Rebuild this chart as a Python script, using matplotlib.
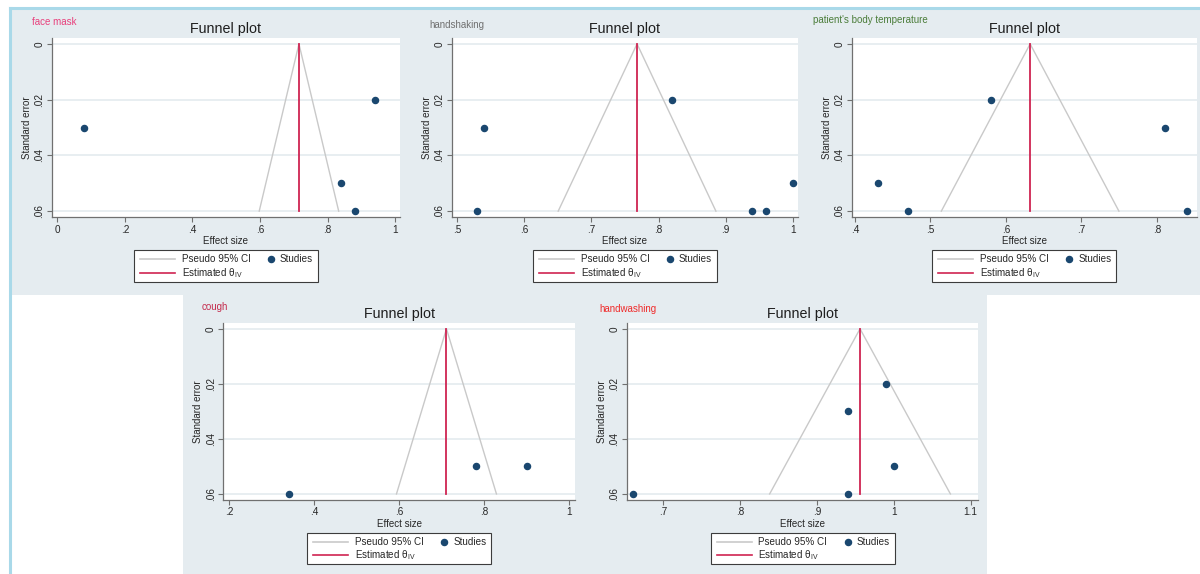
import matplotlib
matplotlib.use("Agg")
import matplotlib.pyplot as plt
from matplotlib.patches import Rectangle
from matplotlib.lines import Line2D

plt.rcParams['font.family'] = ['Liberation Sans', 'DejaVu Sans']
plt.rcParams['mathtext.fontset'] = 'custom'
plt.rcParams['mathtext.rm'] = 'Liberation Sans'
plt.rcParams['mathtext.it'] = 'Liberation Sans:italic'

# ---------------------------------------------------------------- data
outcomes = ["face mask", "handshaking", "patient's body temperature",
            "cough", "handwashing"]

face_mask_es = [0.08, 0.94, 0.84, 0.88]
face_mask_se = [0.03, 0.02, 0.05, 0.06]

handshaking_es = [0.53, 0.54, 0.82, 0.94, 0.96, 1.00]
handshaking_se = [0.06, 0.03, 0.02, 0.06, 0.06, 0.05]

body_temp_es = [0.43, 0.47, 0.58, 0.81, 0.84]
body_temp_se = [0.05, 0.06, 0.02, 0.03, 0.06]

cough_es = [0.34, 0.78, 0.90]
cough_se = [0.06, 0.05, 0.05]

handwashing_es = [0.66, 0.94, 0.94, 0.99, 1.00]
handwashing_se = [0.06, 0.03, 0.06, 0.02, 0.05]

# inverse-variance pooled estimates
pooled_theta = [0.715, 0.768, 0.632, 0.711, 0.956]

face_mask_xticks = [0, 0.2, 0.4, 0.6, 0.8, 1.0]
face_mask_xlabels = ["0", ".2", ".4", ".6", ".8", "1"]
handshaking_xticks = [0.5, 0.6, 0.7, 0.8, 0.9, 1.0]
handshaking_xlabels = [".5", ".6", ".7", ".8", ".9", "1"]
body_temp_xticks = [0.4, 0.5, 0.6, 0.7, 0.8]
body_temp_xlabels = [".4", ".5", ".6", ".7", ".8"]
cough_xticks = [0.2, 0.4, 0.6, 0.8, 1.0]
cough_xlabels = [".2", ".4", ".6", ".8", "1"]
handwashing_xticks = [0.7, 0.8, 0.9, 1.0, 1.1]
handwashing_xlabels = [".7", ".8", ".9", "1", "1.1"]

se_ticks = [0, 0.02, 0.04, 0.06]
se_labels = ["0", ".02", ".04", ".06"]

# ---------------------------------------------------------------- layout
W, H = 1200, 574
BG = "#e5ecf0"
BORDER = "#a9d9e9"
NAVY = "#1a476f"
CRIMSON = "#cf2452"
CI_GREY = "#c9c9c9"
AXIS_GREY = "#707070"

panels = [
    dict(es=face_mask_es, se=face_mask_se, xt=face_mask_xticks, xl=face_mask_xlabels,
         box=(51.7, 38.3, 400.0, 217.3), xlim=(-0.0166, 1.014),
         tag_xy=(32, 22), tag_color="#e8407c"),
    dict(es=handshaking_es, se=handshaking_se, xt=handshaking_xticks, xl=handshaking_xlabels,
         box=(451.7, 38.3, 798.0, 217.3), xlim=(0.4916, 1.008),
         tag_xy=(429, 25), tag_color="#707070"),
    dict(es=body_temp_es, se=body_temp_se, xt=body_temp_xticks, xl=body_temp_xlabels,
         box=(851.7, 38.3, 1197.0, 217.3), xlim=(0.3957, 0.853),
         tag_xy=(813, 20), tag_color="#4b7d3a"),
    dict(es=cough_es, se=cough_se, xt=cough_xticks, xl=cough_xlabels,
         box=(223.3, 323.3, 575.0, 500.0), xlim=(0.186, 1.0134),
         tag_xy=(201.7, 307), tag_color="#c42a4c"),
    dict(es=handwashing_es, se=handwashing_se, xt=handwashing_xticks, xl=handwashing_xlabels,
         box=(626.7, 323.3, 978.3, 500.0), xlim=(0.6524, 1.1099),
         tag_xy=(599, 309), tag_color="#f02a2a"),
]

fig = plt.figure(figsize=(W / 100, H / 100), dpi=100)
fig.patch.set_facecolor("white")


def fx(x):
    return x / W


def fy(y):
    return 1 - y / H


def fig_rect(x0, y0, x1, y1, **kw):
    r = Rectangle((fx(x0), fy(y1)), (x1 - x0) / W, (y1 - y0) / H,
                  transform=fig.transFigure, **kw)
    fig.add_artist(r)
    return r


def fig_line(xs, ys, **kw):
    ln = Line2D([fx(x) for x in xs], [fy(y) for y in ys],
                transform=fig.transFigure, **kw)
    fig.add_artist(ln)
    return ln


# graph-region backgrounds
fig_rect(10, 9, 1200, 295, facecolor=BG, edgecolor="none", zorder=-2)
fig_rect(183, 295, 987, 574, facecolor=BG, edgecolor="none", zorder=-2)
fig_line([10, 1200], [8.2, 8.2], color=BORDER, lw=2.2, zorder=-1)
fig_line([9.6, 9.6], [8, 574], color=BORDER, lw=2.2, zorder=-1)

for name, theta, p in zip(outcomes, pooled_theta, panels):
    l, t, r, b = p["box"]
    ax = fig.add_axes([fx(l), fy(b), (r - l) / W, (b - t) / H])
    ax.set_facecolor("white")
    for side in ("top", "right"):
        ax.spines[side].set_visible(False)
    for side in ("left", "bottom"):
        ax.spines[side].set_color(AXIS_GREY)
        ax.spines[side].set_linewidth(0.9)

    se_max = max(p["se"])
    half = 1.96 * se_max
    ax.plot([theta - half, theta, theta + half], [se_max, 0, se_max],
            color=CI_GREY, lw=1.0, zorder=2)
    ax.plot([theta, theta], [0, se_max], color=CRIMSON, lw=1.3, zorder=2)
    ax.plot(p["es"], p["se"], "o", color=NAVY, ms=4.4, mec=NAVY,
            clip_on=False, zorder=3)

    ax.set_xlim(*p["xlim"])
    ax.set_ylim(0.0622, -0.0020)
    ax.set_xticks(p["xt"])
    ax.set_xticklabels(p["xl"])
    ax.set_yticks(se_ticks)
    ax.set_yticklabels(se_labels, rotation=90, va="center")
    ax.grid(axis="y", color="#e6edf0", lw=1.3)
    ax.set_axisbelow(True)
    ax.tick_params(length=3.3, width=0.8, color=AXIS_GREY, labelsize=7.2,
                   labelcolor="#262626", pad=2)
    ax.set_xlabel("Effect size", fontsize=7, labelpad=1, color="#262626")
    ax.set_ylabel("Standard error", fontsize=7, labelpad=2, color="#262626")

    cx = (l + r) / 2
    fig.text(fx(cx), fy(t - 9.3), "Funnel plot", ha="center", va="center",
             fontsize=10.3, color="#1e1e1e")
    tx, ty = p["tag_xy"]
    fig.text(fx(tx), fy(ty), name, ha="left", va="center", fontsize=7,
             color=p["tag_color"])

    # legend box below the plot region
    lx0 = cx - 92
    ly0 = b + 32.7
    fig_rect(lx0, ly0, lx0 + 184, ly0 + 31.5, facecolor="white",
             edgecolor="#3c3c3c", lw=0.8, zorder=5)
    r1, r2 = ly0 + 9.3, ly0 + 22.7
    fig_line([lx0 + 6, lx0 + 41], [r1, r1], color=CI_GREY, lw=1.2, zorder=6)
    fig_line([lx0 + 6, lx0 + 41], [r2, r2], color=CRIMSON, lw=1.2, zorder=6)
    fig.text(fx(lx0 + 48), fy(r1), "Pseudo 95% CI", ha="left", va="center",
             fontsize=7.1, color="#262626", zorder=6)
    fig.text(fx(lx0 + 48), fy(r2), r"Estimated θ$_{\mathrm{IV}}$", ha="left",
             va="center", fontsize=7.1, color="#262626", zorder=6)
    fig_line([lx0 + 137], [r1], marker="o", ms=4.4, color=NAVY, lw=0, zorder=6)
    fig.text(fx(lx0 + 146), fy(r1), "Studies", ha="left", va="center",
             fontsize=7.1, color="#262626", zorder=6)

fig.savefig("out.png", dpi=100, facecolor="white")
